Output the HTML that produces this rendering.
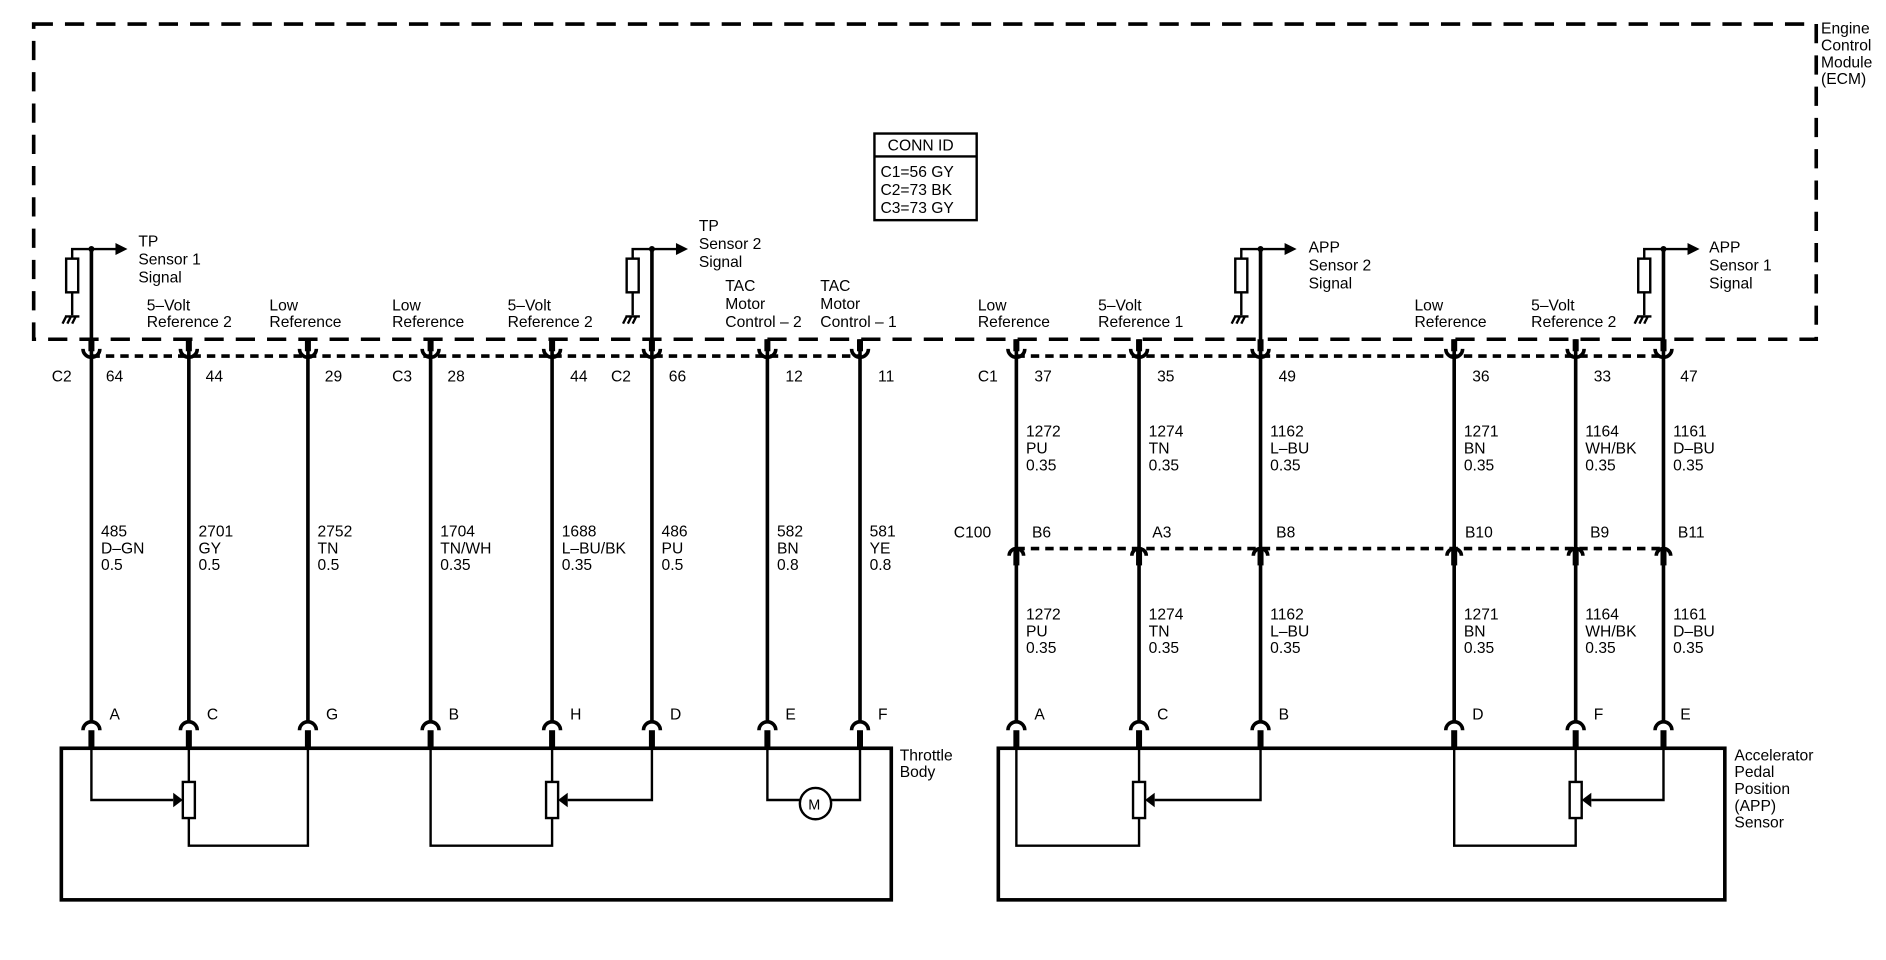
<!DOCTYPE html>
<html><head><style>html,body{margin:0;padding:0;background:#fff}svg{display:block}text{font-family:"Liberation Sans",Arial,sans-serif;font-size:13px;fill:#000}</style></head><body>
<svg width="1886" height="960" viewBox="0 0 1568 798" preserveAspectRatio="none" xmlns="http://www.w3.org/2000/svg">
<defs>
<g id="top"><line x1="0" y1="282" x2="0" y2="292" stroke="#000" stroke-width="5"/><path d="M-7,290 A7,7 0 0 0 7,290" fill="none" stroke="#000" stroke-width="3"/></g>
<g id="mid"><path d="M-6,462 A6,6 0 0 1 6,462" fill="none" stroke="#000" stroke-width="3"/><line x1="0" y1="456" x2="0" y2="470" stroke="#000" stroke-width="5"/></g>
<g id="bot"><path d="M-7,607 A7,7 0 0 1 7,607" fill="none" stroke="#000" stroke-width="3"/><line x1="0" y1="607" x2="0" y2="622" stroke="#000" stroke-width="5"/></g>
<g id="pull"><path d="M0,207 H-16 V262" fill="none" stroke="#000" stroke-width="2"/><rect x="-21" y="215" width="10" height="28" fill="#fff" stroke="#000" stroke-width="2"/><path d="M-22,263 H-10 M-21,263 l-3,6 M-17,263 l-3,6 M-13,263 l-3,6" stroke="#000" stroke-width="2"/><line x1="0" y1="207" x2="22" y2="207" stroke="#000" stroke-width="2"/><path d="M20,202 L30,207 L20,212Z"/><circle cx="0" cy="207" r="2.5"/></g>
<g id="res"><rect x="-5" y="650" width="10" height="30" fill="#fff" stroke="#000" stroke-width="2"/></g>
</defs>
<rect x="28" y="20" width="1482" height="262" fill="none" stroke="#000" stroke-width="3" stroke-dasharray="16,10"/>
<text x="1514" y="28">Engine</text><text x="1514" y="42">Control</text><text x="1514" y="56">Module</text><text x="1514" y="70">(ECM)</text>
<rect x="727" y="111" width="85" height="72" fill="#fff" stroke="#000" stroke-width="2"/><line x1="727" y1="130" x2="812" y2="130" stroke="#000" stroke-width="2"/>
<text x="738" y="125">CONN ID</text><text x="732" y="147">C1=56 GY</text><text x="732" y="162">C2=73 BK</text><text x="732" y="177">C3=73 GY</text>
<g stroke="#000" stroke-width="3" stroke-dasharray="7,5" fill="none"><line x1="76" y1="296" x2="715" y2="296"/><line x1="845" y1="296" x2="1383" y2="296"/><line x1="845" y1="456" x2="1383" y2="456"/></g>
<!-- wires -->
<g stroke="#000" stroke-width="3">
<line x1="76" y1="207" x2="76" y2="600"/><line x1="542" y1="207" x2="542" y2="600"/><line x1="1048" y1="207" x2="1048" y2="600"/><line x1="1383" y1="207" x2="1383" y2="600"/>
<line x1="157" y1="282" x2="157" y2="600"/><line x1="256" y1="282" x2="256" y2="600"/><line x1="358" y1="282" x2="358" y2="600"/><line x1="459" y1="282" x2="459" y2="600"/><line x1="638" y1="282" x2="638" y2="600"/><line x1="715" y1="282" x2="715" y2="600"/>
<line x1="845" y1="282" x2="845" y2="600"/><line x1="947" y1="282" x2="947" y2="600"/><line x1="1209" y1="282" x2="1209" y2="600"/><line x1="1310" y1="282" x2="1310" y2="600"/>
</g>
<use href="#pull" x="76"/><use href="#pull" x="542"/><use href="#pull" x="1048"/><use href="#pull" x="1383"/>
<g>
<use href="#top" x="76"/><use href="#top" x="157"/><use href="#top" x="256"/><use href="#top" x="358"/><use href="#top" x="459"/><use href="#top" x="542"/><use href="#top" x="638"/><use href="#top" x="715"/>
<use href="#top" x="845"/><use href="#top" x="947"/><use href="#top" x="1048"/><use href="#top" x="1209"/><use href="#top" x="1310"/><use href="#top" x="1383"/>
<use href="#mid" x="845"/><use href="#mid" x="947"/><use href="#mid" x="1048"/><use href="#mid" x="1209"/><use href="#mid" x="1310"/><use href="#mid" x="1383"/>
<use href="#bot" x="76"/><use href="#bot" x="157"/><use href="#bot" x="256"/><use href="#bot" x="358"/><use href="#bot" x="459"/><use href="#bot" x="542"/><use href="#bot" x="638"/><use href="#bot" x="715"/>
<use href="#bot" x="845"/><use href="#bot" x="947"/><use href="#bot" x="1048"/><use href="#bot" x="1209"/><use href="#bot" x="1310"/><use href="#bot" x="1383"/>
</g>
<!-- component boxes -->
<rect x="51" y="622" width="690" height="126" fill="none" stroke="#000" stroke-width="3"/>
<rect x="830" y="622" width="604" height="126" fill="none" stroke="#000" stroke-width="3"/>
<text x="748" y="632">Throttle</text><text x="748" y="646">Body</text>
<text x="1442" y="632">Accelerator</text><text x="1442" y="646">Pedal</text><text x="1442" y="660">Position</text><text x="1442" y="674">(APP)</text><text x="1442" y="688">Sensor</text>
<g stroke="#000" stroke-width="2" fill="none">
<path d="M76,622 V665 H144"/><path d="M157,622 V650 M157,680 V703 H256 V622"/>
<path d="M358,622 V703 H459 V680 M459,622 V650"/><path d="M542,622 V665 H472"/>
<path d="M638,622 V665 H665 M691,665 H715 V622"/>
<path d="M845,622 V703 H947 V680 M947,622 V650"/><path d="M1048,622 V665 H960"/>
<path d="M1209,622 V703 H1310 V680 M1310,622 V650"/><path d="M1383,622 V665 H1323"/>
</g>
<use href="#res" x="157"/><use href="#res" x="459"/><use href="#res" x="947"/><use href="#res" x="1310"/>
<path d="M144,659 L152,665 L144,671Z"/><path d="M472,659 L464,665 L472,671Z"/><path d="M960,659 L952,665 L960,671Z"/><path d="M1323,659 L1315,665 L1323,671Z"/>
<circle cx="678" cy="668" r="13" fill="#fff" stroke="#000" stroke-width="2"/><text x="672" y="673" style="font-size:12px">M</text>
<!-- ECM labels -->
<text x="115" y="205">TP</text><text x="115" y="220">Sensor 1</text><text x="115" y="235">Signal</text>
<text x="581" y="192">TP</text><text x="581" y="207">Sensor 2</text><text x="581" y="222">Signal</text>
<text x="1088" y="210">APP</text><text x="1088" y="225">Sensor 2</text><text x="1088" y="240">Signal</text>
<text x="1421" y="210">APP</text><text x="1421" y="225">Sensor 1</text><text x="1421" y="240">Signal</text>
<text x="122" y="258">5–Volt</text><text x="122" y="272">Reference 2</text>
<text x="224" y="258">Low</text><text x="224" y="272">Reference</text>
<text x="326" y="258">Low</text><text x="326" y="272">Reference</text>
<text x="422" y="258">5–Volt</text><text x="422" y="272">Reference 2</text>
<text x="603" y="242">TAC</text><text x="603" y="257">Motor</text><text x="603" y="272">Control – 2</text>
<text x="682" y="242">TAC</text><text x="682" y="257">Motor</text><text x="682" y="272">Control – 1</text>
<text x="813" y="258">Low</text><text x="813" y="272">Reference</text>
<text x="913" y="258">5–Volt</text><text x="913" y="272">Reference 1</text>
<text x="1176" y="258">Low</text><text x="1176" y="272">Reference</text>
<text x="1273" y="258">5–Volt</text><text x="1273" y="272">Reference 2</text>
<!-- pins -->
<text x="43" y="317">C2</text><text x="88" y="317">64</text><text x="171" y="317">44</text><text x="270" y="317">29</text>
<text x="326" y="317">C3</text><text x="372" y="317">28</text><text x="474" y="317">44</text><text x="508" y="317">C2</text><text x="556" y="317">66</text>
<text x="653" y="317">12</text><text x="730" y="317">11</text>
<text x="813" y="317">C1</text><text x="860" y="317">37</text><text x="962" y="317">35</text><text x="1063" y="317">49</text><text x="1224" y="317">36</text><text x="1325" y="317">33</text><text x="1397" y="317">47</text>
<!-- wire labels left -->
<g>
<text x="84" y="446">485</text><text x="84" y="460">D–GN</text><text x="84" y="474">0.5</text>
<text x="165" y="446">2701</text><text x="165" y="460">GY</text><text x="165" y="474">0.5</text>
<text x="264" y="446">2752</text><text x="264" y="460">TN</text><text x="264" y="474">0.5</text>
<text x="366" y="446">1704</text><text x="366" y="460">TN/WH</text><text x="366" y="474">0.35</text>
<text x="467" y="446">1688</text><text x="467" y="460">L–BU/BK</text><text x="467" y="474">0.35</text>
<text x="550" y="446">486</text><text x="550" y="460">PU</text><text x="550" y="474">0.5</text>
<text x="646" y="446">582</text><text x="646" y="460">BN</text><text x="646" y="474">0.8</text>
<text x="723" y="446">581</text><text x="723" y="460">YE</text><text x="723" y="474">0.8</text>
</g>
<g>
<text x="853" y="363">1272</text><text x="853" y="377">PU</text><text x="853" y="391">0.35</text>
<text x="955" y="363">1274</text><text x="955" y="377">TN</text><text x="955" y="391">0.35</text>
<text x="1056" y="363">1162</text><text x="1056" y="377">L–BU</text><text x="1056" y="391">0.35</text>
<text x="1217" y="363">1271</text><text x="1217" y="377">BN</text><text x="1217" y="391">0.35</text>
<text x="1318" y="363">1164</text><text x="1318" y="377">WH/BK</text><text x="1318" y="391">0.35</text>
<text x="1391" y="363">1161</text><text x="1391" y="377">D–BU</text><text x="1391" y="391">0.35</text>
<text x="853" y="515">1272</text><text x="853" y="529">PU</text><text x="853" y="543">0.35</text>
<text x="955" y="515">1274</text><text x="955" y="529">TN</text><text x="955" y="543">0.35</text>
<text x="1056" y="515">1162</text><text x="1056" y="529">L–BU</text><text x="1056" y="543">0.35</text>
<text x="1217" y="515">1271</text><text x="1217" y="529">BN</text><text x="1217" y="543">0.35</text>
<text x="1318" y="515">1164</text><text x="1318" y="529">WH/BK</text><text x="1318" y="543">0.35</text>
<text x="1391" y="515">1161</text><text x="1391" y="529">D–BU</text><text x="1391" y="543">0.35</text>
</g>
<text x="793" y="447">C100</text><text x="858" y="447">B6</text><text x="958" y="447">A3</text><text x="1061" y="447">B8</text><text x="1218" y="447">B10</text><text x="1322" y="447">B9</text><text x="1395" y="447">B11</text>
<!-- bottom pins -->
<text x="91" y="598">A</text><text x="172" y="598">C</text><text x="271" y="598">G</text><text x="373" y="598">B</text><text x="474" y="598">H</text><text x="557" y="598">D</text><text x="653" y="598">E</text><text x="730" y="598">F</text>
<text x="860" y="598">A</text><text x="962" y="598">C</text><text x="1063" y="598">B</text><text x="1224" y="598">D</text><text x="1325" y="598">F</text><text x="1397" y="598">E</text>
</svg>
</body></html>
